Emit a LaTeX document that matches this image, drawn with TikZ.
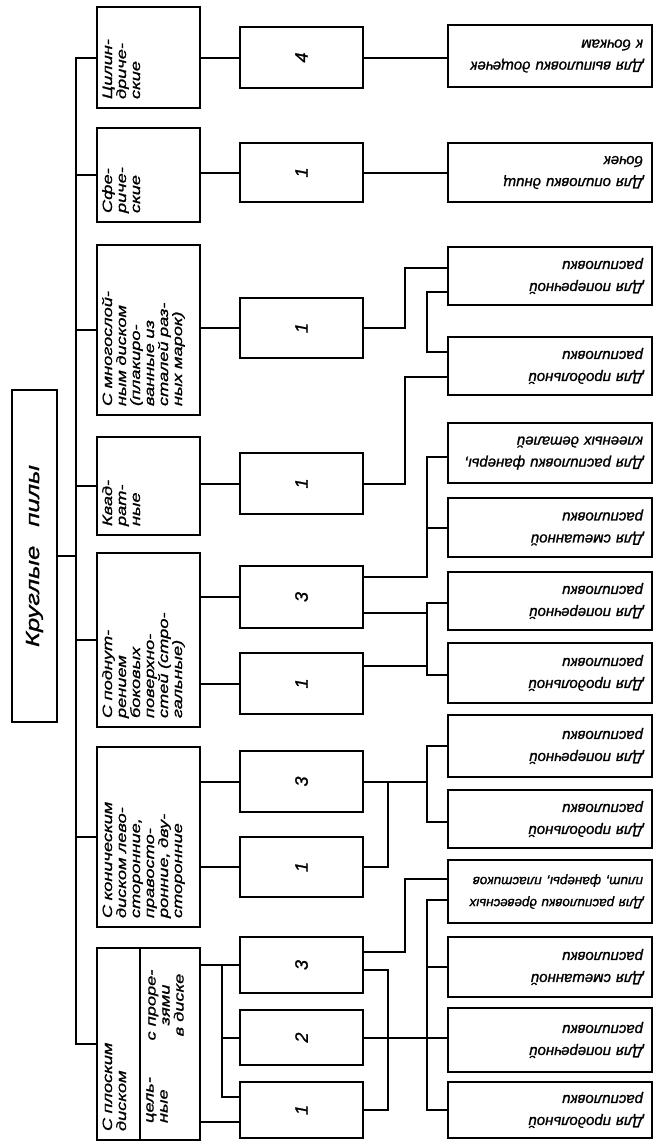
\documentclass[tikz,border=0pt]{standalone}
\usepackage{fontspec}
\setmainfont{Liberation Sans}[FakeBold=1.2]
\newfontfamily\widefont{Liberation Sans}[FakeStretch=1.35, FakeBold=1.2]
\usepackage{tikz}
\usetikzlibrary{positioning,calc}

\tikzset{
  box/.style={draw, line width=2.3pt},
  link/.style={line width=2pt},
  rootbox/.style={box, rotate=90, minimum width=332pt, minimum height=45pt,
    font=\widefont\itshape\fontsize{19}{22}\selectfont},
  catbox/.style={box, rotate=90, minimum width=#1, minimum height=103pt,
    text width=#1-18pt, inner xsep=9pt, inner ysep=5pt, align=left,
    text height=10pt, text depth=83pt,
    font=\widefont\itshape\fontsize{13.5}{14}\selectfont},
  subtext/.style={rotate=90, inner sep=1pt,
    font=\widefont\itshape\fontsize{13.5}{14}\selectfont},
  numbox/.style={box, rotate=90, minimum width=#1, minimum height=123pt,
    font=\itshape\fontsize{18}{20}\selectfont},
  aimbox/.style={box, rotate=180, minimum width=204pt, minimum height=#1,
    text width=186pt, inner xsep=9pt, align=left,
    font=\itshape\fontsize{15}{22}\selectfont},
}

\begin{document}
\begin{tikzpicture}[x=1pt, y=-1pt]
    \useasboundingbox (0,0) rectangle (653,1146);

    % columns of the connectors
    \coordinate (tk) at (76,0);
    \coordinate (fk) at (222,0);
    \coordinate (bC) at (388,0);
    \coordinate (bA) at (405,0);
    \coordinate (bB) at (427,0);

    \node[rootbox] (root) at (34.5,556) {Круглые\quad пилы};

    % kinds of saws
    \node[catbox=101pt] (cyl) at (148.5,57.5) {Цилин-\\дриче-\\ские};
    \node[catbox=94pt] (sph) at (148.5,175) {Сфе-\\риче-\\ские};
    \node[catbox=170pt] (mult) at (148.5,330) {С многослой-\\ным диском\\(плакиро-\\ванные из\\сталей раз-\\ных марок)};
    \node[catbox=98pt] (sq) at (148.5,486) {Квад-\\рат-\\ные};
    \node[catbox=174pt] (rel) at (148.5,640) {С поднут-\\рением\\боковых\\поверхно-\\стей (стро-\\гальные)};
    \node[catbox=180pt] (con) at (148.5,837) {С коническим\\диском лево-\\сторонние,\\правосто-\\ронние, дву-\\сторонние};
    \node[catbox=192pt] (flat) at (148.5,1044) {С плоским\\диском};
    \draw[box] (flat.east -| 140,0) -- (flat.west -| 140,0);
    \node[subtext, align=left] (whole) at (157,1100) {цель-\\ные};
    \node[subtext, align=center] (slot) at (166,1005) {с проре-\\зями\\в диске};

    % numbers
    \node[numbox=61pt] (n1) at (301.5,57.5) {4};
    \node[numbox=59pt] (n2) at (301.5,172.5) {1};
    \node[numbox=60pt] (n3) at (301.5,328) {1};
    \node[numbox=61pt] (n4) at (301.5,483.5) {1};
    \node[numbox=62pt] (n5) at (301.5,597) {3};
    \node[numbox=61pt] (n6) at (301.5,683.5) {1};
    \node[numbox=61pt] (n7) at (301.5,781.5) {3};
    \node[numbox=60pt] (n8) at (301.5,867) {1};
    \node[numbox=56pt] (n9) at (301.5,965) {3};
    \node[numbox=55pt] (n10) at (301.5,1037.5) {2};
    \node[numbox=56pt] (n11) at (301.5,1110) {1};

    % uses
    \node[aimbox=62pt] (r1) at (550,56) {Для выпиловки дощечек\\к бочкам};
    \node[aimbox=59pt] (r2) at (550,172.5) {Для опиловки днищ\\бочек};
    \node[aimbox=58pt] (r3) at (550,276) {Для поперечной\\распиловки};
    \node[aimbox=58pt] (r4) at (550,366) {Для продольной\\распиловки};
    \node[aimbox=60pt] (r5) at (550,453) {Для распиловки фанеры,\\клееных деталей};
    \node[aimbox=59pt] (r6) at (550,527.5) {Для смешанной\\распиловки};
    \node[aimbox=58pt] (r7) at (550,601) {Для поперечной\\распиловки};
    \node[aimbox=60pt] (r8) at (550,673) {Для продольной\\распиловки};
    \node[aimbox=62pt] (r9) at (550,746) {Для поперечной\\распиловки};
    \node[aimbox=58pt] (r10) at (550,819) {Для продольной\\распиловки};
    \node[aimbox=63pt, font=\itshape\fontsize{13.5}{22}\selectfont] (r11) at (550,891.5) {Для распиловки древесных\\плит, фанеры, пластиков};
    \node[aimbox=60pt] (r12) at (550,967) {Для смешанной\\распиловки};
    \node[aimbox=64pt] (r13) at (550,1040) {Для поперечной\\распиловки};
    \node[aimbox=56pt] (r14) at (550,1110) {Для продольной\\распиловки};

    % trunk
    \draw[link] (root.south) -- (root.south -| tk);
    \draw[link] (cyl.north) -- (cyl.north -| tk) -- (flat.north -| tk) -- (flat.north);
    \foreach \c in {sph,mult,sq,rel,con}
        \draw[link] (\c.north) -- (\c.north -| tk);

    % kinds to numbers
    \draw[link] (cyl.south |- n1) -- (n1.north);
    \draw[link] (sph.south |- n2) -- (n2.north);
    \draw[link] (mult.south |- n3) -- (n3.north);
    \draw[link] (sq.south |- n4) -- (n4.north);
    \draw[link] (rel.south |- n5) -- (n5.north);
    \draw[link] (rel.south |- n6) -- (n6.north);
    \draw[link] (con.south |- n7) -- (n7.north);
    \draw[link] (con.south |- n8) -- (n8.north);
    \draw[link] (flat.south |- n9) -- (n9.north);
    \draw[link] (n9.north -| fk) |- (n10.north);
    \draw[link] (n10.north -| fk) |- ($(n11.north)+(0,-13)$);
    \path ($(n11.north)+(0,12)$) coordinate (n11b);
    \draw[link] (n11b -| flat.south) -- (n11b);

    % numbers to uses
    \draw[link] (n1.south) -- (r1.east |- n1);
    \draw[link] (n2.south) -- (r2.east |- n2);
    \draw[link] (n3.south) -| ($(bA |- r3)+(0,-8)$) -- ($(r3.east)+(0,-8)$);
    \draw[link] ($(r3.east)+(0,16)$) -| ($(bB |- r4)+(0,-14)$) -- ($(r4.east)+(0,-14)$);
    \draw[link] (n4.south) -| ($(bA |- r4)+(0,11)$) -- ($(r4.east)+(0,11)$);
    \draw[link] ($(n5.south)+(0,-20)$) -| ($(bB |- r5)+(0,4)$) -- ($(r5.east)+(0,4)$);
    \draw[link] (bB |- r6) -- (r6.east);
    \draw[link] ($(n5.south)+(0,16)$) -| ($(bB |- r7)+(0,2)$) -- ($(r7.east)+(0,2)$);
    \draw[link] ($(bB |- r7)+(0,2)$) |- ($(r8.east)+(0,2)$);
    \draw[link] ($(n6.south)+(0,-18)$) -- ($(bB |- n6)+(0,-18)$);
    \draw[link] (n7.south) -- (bB |- n7);
    \draw[link] (r9.east) -| ($(bB |- r10)+(0,3)$) -- ($(r10.east)+(0,3)$);
    \draw[link] (n8.south) -| (bC |- n7);
    \draw[link] ($(n9.south)+(0,-13)$) -| ($(bA |- r11)+(0,-13)$) -- ($(r11.east)+(0,-13)$);
    \draw[link] ($(r11.east)+(0,8)$) -| (bB |- r14) -- (r14.east);
    \draw[link] (bB |- r12) -- (r12.east);
    \draw[link] (n10.south) -- (r13.east |- n10);
    \draw[link] ($(n9.south)+(0,5)$) -| (bC |- n11) -- (n11.south);
\end{tikzpicture}
\end{document}
